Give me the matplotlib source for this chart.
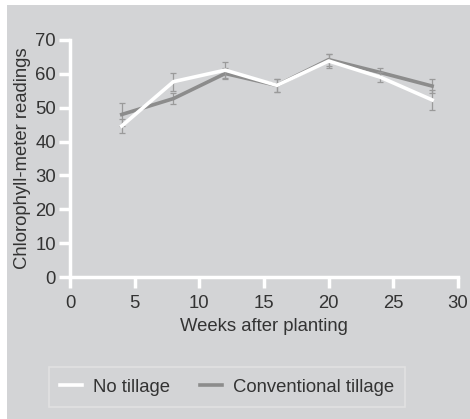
import matplotlib.pyplot as plt
import matplotlib.patches as mpatches
from matplotlib.lines import Line2D

weeks = [4, 8, 12, 16, 20, 24, 28]
no_till = [44.6, 57.7, 61.1, 56.6, 63.8, 59.0, 52.3]
no_till_err = [2.0, 2.7, 2.3, 2.0, 2.0, 1.5, 3.0]
conv_till = [48.0, 52.7, 60.1, 56.6, 64.2, 60.4, 56.4]
conv_till_err = [3.3, 1.5, 1.5, 2.0, 1.8, 1.2, 2.0]

BG = '#d3d4d6'
GRAY = '#8c8c8c'
TXT = '#333333'
FS = 13.3

plt.rcParams['font.family'] = ['Liberation Sans', 'DejaVu Sans']

fig = plt.figure(figsize=(4.7, 4.19), dpi=100, facecolor=BG)
# thin white margins at the left and top edges
fig.patches.append(mpatches.Rectangle((0, 0), 7 / 470, 1, transform=fig.transFigure,
                                      facecolor='white', edgecolor='none'))
fig.patches.append(mpatches.Rectangle((0, 1 - 5 / 419), 1, 5 / 419, transform=fig.transFigure,
                                      facecolor='white', edgecolor='none'))
ax = fig.add_axes([70 / 470, 1 - 277 / 419, 388 / 470, 237 / 419])
ax.set_facecolor(BG)

ax.errorbar(weeks, no_till, yerr=no_till_err, color='white', lw=2.6,
            ecolor='#9a9a9a', elinewidth=0.9, capsize=2.5, capthick=0.9, zorder=3)
ax.errorbar(weeks, conv_till, yerr=conv_till_err, color=GRAY, lw=2.6,
            ecolor='#9a9a9a', elinewidth=0.9, capsize=2.5, capthick=0.9, zorder=2)

ax.set_xlim(0, 30)
ax.set_ylim(0, 70)
ax.set_xticks(range(0, 31, 5))
ax.set_yticks(range(0, 71, 10))
for s in ['top', 'right']:
    ax.spines[s].set_visible(False)
for s in ['left', 'bottom']:
    ax.spines[s].set_color('white')
    ax.spines[s].set_linewidth(2.5)
ax.tick_params(colors='white', width=2.5, length=8, pad=2, labelsize=FS,
               labelcolor=TXT)
ax.tick_params(axis='x', pad=5)
ax.set_xlabel('Weeks after planting', fontsize=FS, color=TXT, labelpad=4)
ax.set_ylabel('Chlorophyll-meter readings', fontsize=FS, color=TXT, labelpad=3)

handles = [Line2D([], [], color='white', lw=2.6),
           Line2D([], [], color=GRAY, lw=2.6)]
leg = fig.legend(handles, ['No tillage', 'Conventional tillage'], loc='center',
                 bbox_to_anchor=(227 / 470, 1 - 387 / 419),
                 ncol=2, fontsize=FS, frameon=True, fancybox=False,
                 handlelength=1.2, handletextpad=0.6, columnspacing=1.6,
                 borderpad=0.6)
leg.get_frame().set_facecolor(BG)
leg.get_frame().set_edgecolor('#e4e4e4')
leg.get_frame().set_linewidth(1.2)
for t in leg.get_texts():
    t.set_color(TXT)

fig.savefig('out.png', dpi=100, facecolor=BG)
